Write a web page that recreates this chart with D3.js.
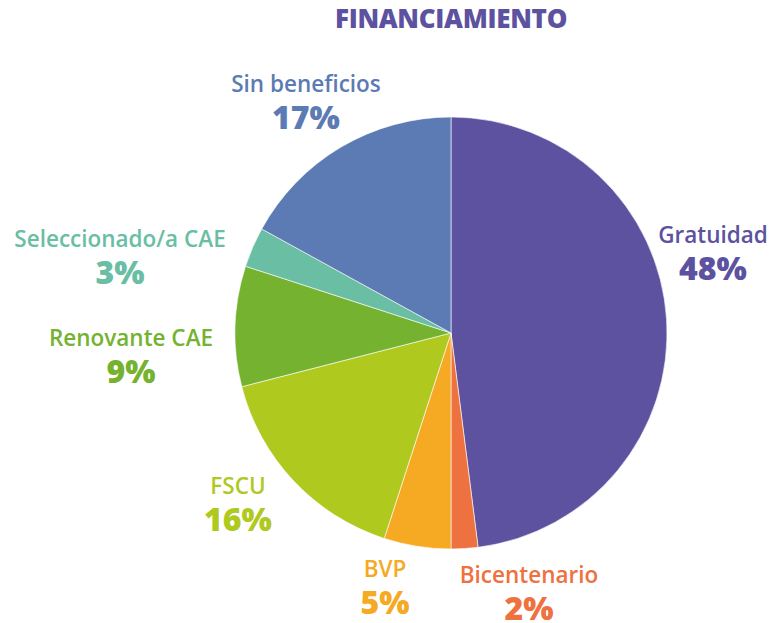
<!DOCTYPE html>
<html>
<head>
<meta charset="utf-8">
<script src="https://d3js.org/d3.v7.min.js"></script>
<style>
  body { margin: 0; background: #fff; }
  svg text { font-family: 'Open Sans', 'Noto Sans', sans-serif; text-anchor: middle; }
</style>
</head>
<body>
<svg id="chart" width="772" height="623"></svg>
<script>
// data
const categories = ['Gratuidad', 'Bicentenario', 'BVP', 'FSCU', 'Renovante CAE', 'Seleccionado/a CAE', 'Sin beneficios'];
const shares = [48, 2, 5, 16, 9, 3, 17];
const colors = ['#5c529f', '#ee7140', '#f6a923', '#b0c91f', '#75b22f', '#69bea3', '#5c7bb4'];

// label anchor (name baseline) for each slice
const labelPos = {
  'Gratuidad': [713, 243],
  'Bicentenario': [529, 583],
  'BVP': [385, 577],
  'FSCU': [238, 494],
  'Renovante CAE': [131, 346],
  'Seleccionado/a CAE': [120, 247],
  'Sin beneficios': [306, 92]
};

const svg = d3.select('#chart');
const cx = 451, cy = 333, r = 216;

const data = categories.map((c, i) => ({ name: c, value: shares[i], color: colors[i] }));

const pie = d3.pie().sort(null).value(d => d.value);
const arc = d3.arc().innerRadius(0).outerRadius(r);

svg.append('g')
  .attr('transform', 'translate(' + cx + ',' + cy + ')')
  .selectAll('path')
  .data(pie(data))
  .enter()
  .append('path')
  .attr('d', arc)
  .attr('fill', d => d.data.color)
  .attr('stroke', '#ffffff')
  .attr('stroke-width', 0.6);

// title
svg.append('text')
  .attr('x', 451)
  .attr('y', 28)
  .attr('fill', '#5c529f')
  .style('font-size', '26px')
  .style('font-weight', 800)
  .style('letter-spacing', '-0.3px')
  .text('FINANCIAMIENTO');

// labels
const labels = svg.append('g')
  .selectAll('g')
  .data(data)
  .enter()
  .append('g')
  .attr('transform', d => 'translate(' + labelPos[d.name][0] + ',' + labelPos[d.name][1] + ')');

labels.append('text')
  .attr('fill', d => d.color)
  .style('font-size', '22.5px')
  .style('font-weight', 600)
  .text(d => d.name);

labels.append('text')
  .attr('y', 37)
  .attr('fill', d => d.color)
  .style('font-size', '32px')
  .style('font-weight', 800)
  .text(d => d.value + '%');
</script>
</body>
</html>
